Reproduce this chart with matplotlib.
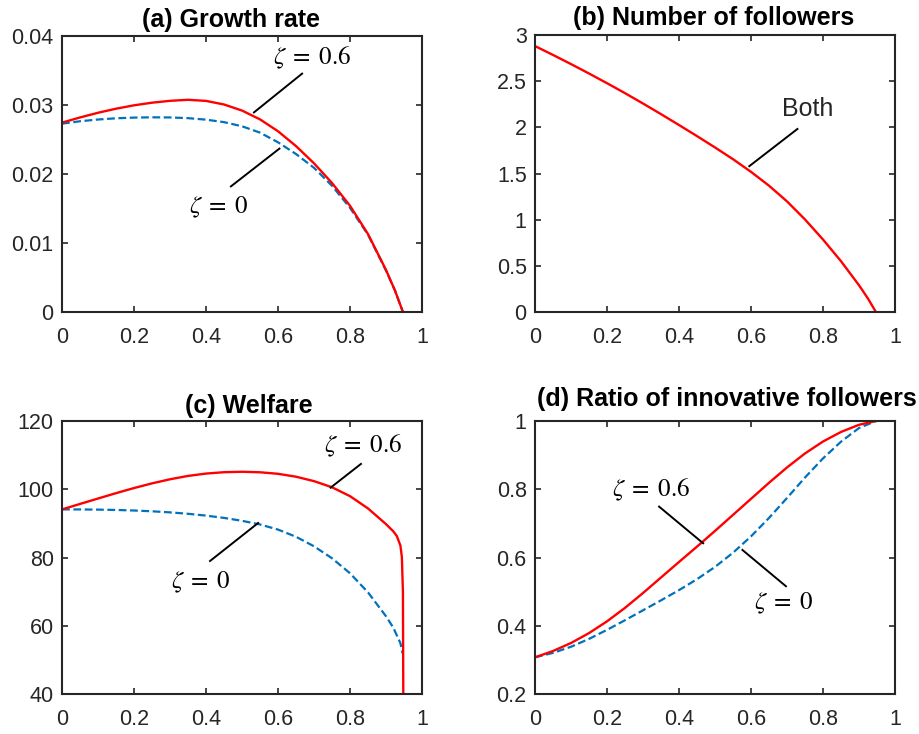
import numpy as np
import matplotlib
matplotlib.use('Agg')
from matplotlib import pyplot as plt

plt.rcParams['font.family'] = ['Liberation Sans', 'DejaVu Sans']
plt.rcParams['mathtext.fontset'] = 'stix'

RED = '#ff0000'
BLUE = '#0072bd'
INK = '#262626'

# (a) growth rate
x_a = [0, 0.05, 0.1, 0.15, 0.2, 0.25, 0.3, 0.35, 0.4, 0.45, 0.5, 0.55, 0.6,
       0.65, 0.7, 0.75, 0.8, 0.85, 0.9, 0.925, 0.947]
growth_z06 = [0.02745, 0.0282, 0.02888, 0.02947, 0.02996, 0.03034, 0.03061,
              0.03076, 0.0306, 0.03008, 0.0292, 0.02792, 0.0262, 0.02405,
              0.02155, 0.0187, 0.0154, 0.0113, 0.0061, 0.0031, 0.0]
growth_z0 = [0.0273, 0.02765, 0.0279, 0.02808, 0.02818, 0.02822, 0.0282,
             0.0281, 0.02788, 0.02752, 0.02692, 0.026, 0.0246, 0.0229, 0.0209,
             0.0183, 0.0151, 0.0112, 0.0060, 0.0031, 0.0]

# (b) number of followers, same for both values of zeta
x_b = [0, 0.05, 0.1, 0.15, 0.2, 0.25, 0.3, 0.35, 0.4, 0.45, 0.5, 0.55, 0.6,
       0.65, 0.7, 0.75, 0.8, 0.85, 0.9, 0.925, 0.947]
followers = [2.88, 2.784, 2.685, 2.583, 2.478, 2.37, 2.258, 2.143, 2.025,
             1.905, 1.782, 1.655, 1.518, 1.368, 1.198, 1.002, 0.785, 0.55,
             0.29, 0.145, 0.0]

# (c) welfare
x_c06 = [0, 0.05, 0.1, 0.15, 0.2, 0.25, 0.3, 0.35, 0.4, 0.45, 0.5, 0.55, 0.6,
         0.65, 0.7, 0.75, 0.8, 0.85, 0.9, 0.92, 0.93, 0.94, 0.944, 0.947, 0.948]
welfare_z06 = [94.1, 95.7, 97.29, 98.86, 100.36, 101.73, 102.93, 103.91,
               104.6, 105.0, 105.13, 104.98, 104.53, 103.68, 102.38, 100.58,
               97.98, 94.38, 89.78, 87.7, 86.3, 83.5, 80.2, 70.0, 40.0]
x_c0 = [0, 0.05, 0.1, 0.15, 0.2, 0.25, 0.3, 0.35, 0.4, 0.45, 0.5, 0.55, 0.6,
        0.65, 0.7, 0.75, 0.8, 0.85, 0.9, 0.92, 0.94, 0.946]
welfare_z0 = [94.1, 94.085, 94.035, 93.935, 93.775, 93.545, 93.23, 92.815,
              92.28, 91.605, 90.755, 89.68, 88.18, 86.08, 83.28, 79.78, 75.38,
              69.78, 62.78, 59.48, 54.9, 51.9]

# (d) ratio of innovative followers
x_d = [0, 0.05, 0.1, 0.15, 0.2, 0.25, 0.3, 0.35, 0.4, 0.45, 0.5, 0.55, 0.6,
       0.65, 0.7, 0.75, 0.8, 0.85, 0.9, 0.947]
ratio_z06 = [0.3075, 0.326, 0.3495, 0.3785, 0.413, 0.4525, 0.496, 0.5415,
             0.587, 0.632, 0.678, 0.725, 0.772, 0.819, 0.864, 0.905, 0.94,
             0.968, 0.989, 1.0]
ratio_z0 = [0.3075, 0.3205, 0.3385, 0.3615, 0.388, 0.4163, 0.4453, 0.4745,
            0.5045, 0.5365, 0.5725, 0.614, 0.662, 0.716, 0.7745, 0.8345,
            0.8905, 0.9395, 0.9795, 1.0]

x_ticks = [0, 0.2, 0.4, 0.6, 0.8, 1]
x_labels = ['0', '0.2', '0.4', '0.6', '0.8', '1']


def style_axes(ax, yticks, ylabels, title, title_x, title_pad):
    ax.set_xlim(0, 1)
    ax.set_ylim(yticks[0], yticks[-1])
    ax.set_xticks(x_ticks)
    ax.set_xticklabels(x_labels)
    ax.set_yticks(yticks)
    ax.set_yticklabels(ylabels)
    ax.tick_params(direction='in', length=4, width=1.2, top=True, right=True,
                   labelsize=15.5, colors=INK)
    ax.tick_params(axis='x', pad=11)
    ax.tick_params(axis='y', pad=6)
    for side in ax.spines.values():
        side.set_linewidth(1.5)
        side.set_color(INK)
    ax.set_title(title, fontsize=18, fontweight='bold', x=title_x, pad=title_pad)


def pointer(ax, label, text_xy, line_from, line_to, size=18, math=True):
    ax.plot([line_from[0], line_to[0]], [line_from[1], line_to[1]],
            color='black', lw=1.4, solid_capstyle='butt')
    ax.text(text_xy[0], text_xy[1], label, fontsize=size, ha='center',
            va='center', color='black' if math else INK)


def main():
    fig = plt.figure(figsize=(9.19, 7.34), dpi=100)
    ax_a = fig.add_axes([0.0675, 0.5749, 0.3917, 0.3760])
    ax_b = fig.add_axes([0.5822, 0.5749, 0.3917, 0.3774])
    ax_c = fig.add_axes([0.0675, 0.0545, 0.3917, 0.3719])
    ax_d = fig.add_axes([0.5822, 0.0545, 0.3917, 0.3719])

    dash = (3.5, 1.6)
    z06 = r'$\zeta\;=\;0.6$'
    z0 = r'$\zeta\;=\;0$'

    ax_a.plot(x_a, growth_z0, color=BLUE, lw=1.6, dashes=dash)
    ax_a.plot(x_a, growth_z06, color=RED, lw=1.7)
    style_axes(ax_a, [0, 0.01, 0.02, 0.03, 0.04],
               ['0', '0.01', '0.02', '0.03', '0.04'],
               '(a) Growth rate', 0.469, 6.5)
    pointer(ax_a, z06, (0.696, 0.0369), (0.669, 0.03464), (0.531, 0.02884))
    pointer(ax_a, z0, (0.436, 0.0152), (0.467, 0.01812), (0.606, 0.02377))

    ax_b.plot(x_b, followers, color=RED, lw=1.7)
    style_axes(ax_b, [0, 0.5, 1, 1.5, 2, 2.5, 3],
               ['0', '0.5', '1', '1.5', '2', '2.5', '3'],
               '(b) Number of followers', 0.497, 7.2)
    pointer(ax_b, 'Both', (0.757, 2.204), (0.731, 1.989), (0.593, 1.573),
            math=False)

    ax_c.plot(x_c0, welfare_z0, color=BLUE, lw=1.6, dashes=dash)
    ax_c.plot(x_c06, welfare_z06, color=RED, lw=1.7)
    style_axes(ax_c, [40, 60, 80, 100, 120],
               ['40', '60', '80', '100', '120'],
               '(c) Welfare', 0.519, 5.8)
    pointer(ax_c, z06, (0.8375, 112.7), (0.8325, 107.6), (0.744, 100.3))
    pointer(ax_c, z0, (0.386, 72.8), (0.409, 78.8), (0.547, 90.3))

    ax_d.plot(x_d, ratio_z0, color=BLUE, lw=1.6, dashes=dash)
    ax_d.plot(x_d, ratio_z06, color=RED, lw=1.7)
    style_axes(ax_d, [0.2, 0.4, 0.6, 0.8, 1],
               ['0.2', '0.4', '0.6', '0.8', '1'],
               '(d) Ratio of innovative followers', 0.533, 10.8)
    pointer(ax_d, z06, (0.322, 0.798), (0.3425, 0.751), (0.469, 0.640))
    pointer(ax_d, z0, (0.692, 0.467), (0.574, 0.624), (0.699, 0.514))

    fig.savefig('out.png', dpi=100)


if __name__ == '__main__':
    main()
